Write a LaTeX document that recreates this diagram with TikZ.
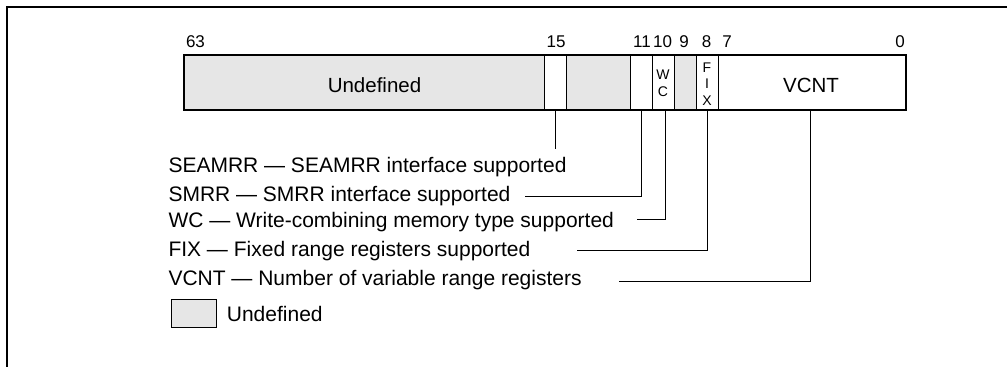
\documentclass[tikz,border=0pt]{standalone}
\usepackage{fontspec}
\setmainfont{Liberation Sans}
\definecolor{undefgray}{RGB}{230,230,230}
\begin{document}
\begin{tikzpicture}[x=1pt,y=-1pt,
  field/.style={draw=black,line width=1pt,inner sep=0pt,outer sep=0pt,anchor=north west,minimum height=55pt},
  undef/.style={field,fill=undefgray},
  bitnum/.style={font=\fontsize{17}{20}\selectfont,anchor=base,inner sep=0pt},
  lbl/.style={font=\fontsize{21}{25}\selectfont,anchor=base west,inner sep=0pt},
  leader/.style={line width=1pt},
  boxtxt/.style={font=\fontsize{20.5}{24}\selectfont,inner sep=0pt},
  vert/.style={font=\fontsize{14}{16.3}\selectfont,align=center,inner sep=0pt}
]
\useasboundingbox (0,0) rectangle (1007,367);
% frame
\coordinate (frTR) at (1007,7);
\coordinate (frTL) at (6.5,7);
\coordinate (frBL) at (6.5,367);
\draw[line width=2pt] (frTR) -- (frTL) -- (frBL);

% register fields
\node[undef, minimum width=360pt] (und63) at (184,55) {};
\node[field, minimum width=22pt] (b15) at (544,55) {};
\node[undef, minimum width=64pt] (und14) at (566,55) {};
\node[field, minimum width=22pt] (b11) at (630,55) {};
\node[field, minimum width=22pt] (wc) at (652,55) {};
\node[undef, minimum width=22pt] (b9) at (674,55) {};
\node[field, minimum width=22pt] (fix) at (696,55) {};
\node[field, minimum width=188pt] (vcnt) at (718,55) {};
\draw[line width=2pt] (und63.north west) rectangle (vcnt.south east);

% field texts
\node[boxtxt] (undtxt) at (374.5,85.5) {Undefined};
\node[boxtxt] (vcnttxt) at (811,85.5) {VCNT};
\node[vert] (wctxt) at (663,83.3) {W\\C};
\node[vert] (fixtxt) at (707,84) {F\\I\\X};

% bit numbers
\node[bitnum] (n63) at (195.5,47.3) {63};
\node[bitnum] (n15) at (556,47.3) {15};
\node[bitnum] (n11) at (642,47.3) {11};
\node[bitnum] (n10) at (662.5,47.3) {10};
\node[bitnum] (n9) at (684,47.3) {9};
\node[bitnum] (n8) at (706.7,47.3) {8};
\node[bitnum] (n7) at (727,47.3) {7};
\node[bitnum] (n0) at (900,47.3) {0};

% descriptions
\node[lbl] (seamrr) at (168.3,172.3) {SEAMRR — SEAMRR interface supported};
\node[lbl] (smrr) at (168.3,201.7) {SMRR — SMRR interface supported};
\node[lbl] (wcd) at (168.3,227.3) {WC — Write-combining memory type supported};
\node[lbl] (fixd) at (168.3,256.7) {FIX — Fixed range registers supported};
\node[lbl] (vcntd) at (168.3,285) {VCNT — Number of variable range registers};

% leader ends
\coordinate (seamrrEnd) at (555,149);
\coordinate (smrrEnd) at (525,196);
\coordinate (wcEnd) at (636.7,219);
\coordinate (fixEnd) at (577.3,250);
\coordinate (vcntEnd) at (619.3,281);

\draw[leader] (b15.south) -- (b15.south |- seamrrEnd);
\draw[leader] (b11.south) |- (smrrEnd);
\draw[leader] ([xshift=2pt]wc.south) |- (wcEnd);
\draw[leader] (fix.south) |- (fixEnd);
\draw[leader] ([xshift=-1.5pt]vcnt.south) |- (vcntEnd);

% legend
\node[draw=black,line width=1pt,fill=undefgray,inner sep=0pt,minimum width=44.7pt,minimum height=28pt,anchor=north west] (legbox) at (171,299.3) {};
\node[lbl] (legtxt) at (226.7,321.7) {Undefined};
\end{tikzpicture}
\end{document}
